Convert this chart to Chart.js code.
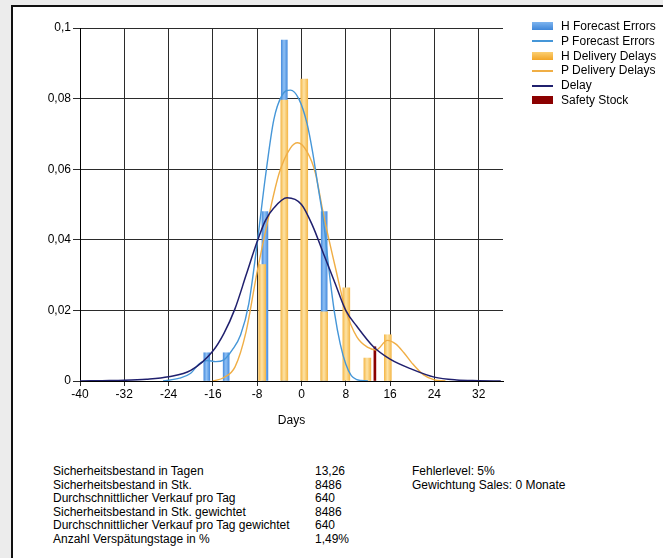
<!DOCTYPE html>
<html>
<head>
<meta charset="utf-8">
<script src="https://cdn.jsdelivr.net/npm/chart.js@4.4.1/dist/chart.umd.min.js"></script>
<style>
body { margin:0; width:663px; height:558px; background:#ececec; font-family:"Liberation Sans", Arial, sans-serif; font-size:12px; color:#000; overflow:hidden; }
#moldura { position:absolute; left:11px; top:5px; right:0; bottom:0; background:#fff; border-left:2px solid #111; border-top:2px solid #111; }
#area { position:absolute; left:13px; top:8px; width:650px; height:440px; }
#legenda { position:absolute; left:532px; top:19px; }
#legenda div { position:relative; height:14.8px; line-height:14.8px; padding-left:29px; white-space:nowrap; }
#legenda span { position:absolute; left:0; width:21px; }
.texto { position:absolute; top:465px; line-height:13.6px; white-space:pre; }
</style>
</head>
<body>
<div id="moldura"></div>
<div id="area"><canvas id="grafico"></canvas></div>
<div id="legenda"></div>
<div class="texto" style="left:53px">Sicherheitsbestand in Tagen
Sicherheitsbestand in Stk.
Durchschnittlicher Verkauf pro Tag
Sicherheitsbestand in Stk. gewichtet
Durchschnittlicher Verkauf pro Tag gewichtet
Anzahl Verspätungstage in %</div>
<div class="texto" style="left:315px">13,26
8486
640
8486
640
1,49%</div>
<div class="texto" style="left:412px">Fehlerlevel: 5%
Gewichtung Sales: 0 Monate</div>

<script>
// histogramas (dias / frequencia)
var diasHForecast = [-17.1, -13.6, -6.6, -3.1, 4.1];
var valoresHForecast = [0.008, 0.008, 0.048, 0.0966, 0.048];

var diasHDelivery = [-7.1, -3.1, 0.5, 4.1, 8.1, 11.9, 15.6];
var valoresHDelivery = [0.033, 0.0796, 0.0855, 0.0196, 0.0264, 0.0065, 0.0131];

// curvas
var diasPForecast = [-25, -22, -20, -18.5, -17, -15.5, -14, -12.5, -11, -9.5, -8, -6.5, -5, -3.5, -2, -0.5, 1, 2, 3, 4, 5, 6, 7, 8, 9, 10, 12];
var valoresPForecast = [0, 0.0008, 0.0022, 0.0048, 0.0058, 0.0055, 0.006, 0.0088, 0.013, 0.022, 0.039, 0.058, 0.074, 0.081, 0.0824, 0.080, 0.073, 0.065, 0.055, 0.045, 0.031, 0.019, 0.0105, 0.0048, 0.0015, 0.0004, 0];

var diasPDelivery = [-16, -14, -12, -10, -8, -6, -4, -2, -0.7, 1, 2.5, 4, 6, 8, 10, 12, 13.5, 15.5, 17, 18.5, 20, 22, 24, 26];
var valoresPDelivery = [0, 0.001, 0.004, 0.014, 0.031, 0.046, 0.059, 0.066, 0.0675, 0.065, 0.059, 0.047, 0.033, 0.02, 0.0125, 0.0095, 0.0088, 0.0115, 0.0105, 0.008, 0.005, 0.0018, 0.0003, 0];

var diasDelay = [-40, -36, -32, -28, -24, -20, -16, -14, -12, -10, -8, -6.5, -5, -2.6, 0, 2, 4, 6, 8, 10, 13, 16, 20, 24, 28, 32, 36];
var valoresDelay = [0, 0.0001, 0.0002, 0.0005, 0.0012, 0.003, 0.0085, 0.0135, 0.0205, 0.030, 0.0395, 0.0455, 0.049, 0.0519, 0.050, 0.044, 0.036, 0.028, 0.020, 0.0155, 0.0097, 0.0062, 0.0033, 0.0011, 0.0003, 0.0001, 0];

var diasSafety = [13.26];
var valoresSafety = [0.0097];

function pontos(dias, valores) {
    var r = [];
    for (var i = 0; i < dias.length; i++) {
        r.push({ x: dias[i], y: valores[i] });
    }
    return r;
}

// degrade horizontal em cada barra
function degrade(claro, escuro, dias, largura) {
    return function (ctx) {
        var escala = ctx.chart.scales.x;
        if (!escala || ctx.dataIndex === undefined) return escuro;
        var px = escala.getPixelForValue(dias[ctx.dataIndex]);
        if (!isFinite(px)) return escuro;
        var g = ctx.chart.ctx.createLinearGradient(px - largura / 2, 0, px + largura / 2, 0);
        g.addColorStop(0, escuro);
        g.addColorStop(0.45, claro);
        g.addColorStop(1, escuro);
        return g;
    };
}

Chart.defaults.font.family = '"Liberation Sans", Arial, sans-serif';
Chart.defaults.font.size = 12;
Chart.defaults.color = '#000';

var series = [
    { label: 'H Forecast Errors', type: 'bar', data: pontos(diasHForecast, valoresHForecast),
      backgroundColor: degrade('#8fc0f4', '#4b8fdf', diasHForecast, 6), barThickness: 6, grouped: false, order: 5,
      legenda: 'linear-gradient(#7db4ef, #3f86d8)', caixa: true },
    { label: 'P Forecast Errors', type: 'line', data: pontos(diasPForecast, valoresPForecast),
      borderColor: '#4596d8', borderWidth: 1.4, pointRadius: 0, cubicInterpolationMode: 'monotone', order: 1,
      legenda: '#4596d8' },
    { label: 'H Delivery Delays', type: 'bar', data: pontos(diasHDelivery, valoresHDelivery),
      backgroundColor: degrade('#fde3a6', '#f5b94c', diasHDelivery, 7), barThickness: 7, grouped: false, order: 4,
      legenda: 'linear-gradient(#fbcf72, #f2a526)', caixa: true },
    { label: 'P Delivery Delays', type: 'line', data: pontos(diasPDelivery, valoresPDelivery),
      borderColor: '#f0ae45', borderWidth: 1.4, pointRadius: 0, cubicInterpolationMode: 'monotone', order: 2,
      legenda: '#f0ae45' },
    { label: 'Delay', type: 'line', data: pontos(diasDelay, valoresDelay),
      borderColor: '#20206e', borderWidth: 1.5, pointRadius: 0, cubicInterpolationMode: 'monotone', order: 0,
      legenda: '#20206e' },
    { label: 'Safety Stock', type: 'bar', data: pontos(diasSafety, valoresSafety),
      backgroundColor: '#8b0000', barThickness: 2, grouped: false, order: 3,
      legenda: '#8b0000', caixa: true }
];

var grafico = new Chart(document.getElementById('grafico'), {
    type: 'line',
    data: { datasets: series },
    options: {
        responsive: true,
        maintainAspectRatio: false,
        animation: false,
        layout: { padding: { top: 20, right: 160, left: 0, bottom: 0 } },
        plugins: { legend: { display: false }, tooltip: { enabled: false } },
        scales: {
            x: {
                type: 'linear',
                min: -40,
                max: 36.4,
                offset: false,
                afterFit: function (escala) { escala.height = 67; },
                grid: { color: '#2b2b2b', tickLength: 5, offset: false },
                border: { color: '#000' },
                ticks: { stepSize: 8, includeBounds: false, maxRotation: 0, autoSkip: false, padding: 1 },
                title: { display: true, text: 'Days', padding: { top: 0, bottom: 20 } }
            },
            y: {
                min: 0,
                max: 0.1,
                afterFit: function (escala) { escala.width = 67; },
                grid: { color: '#2b2b2b', tickLength: 7 },
                border: { color: '#000' },
                ticks: {
                    stepSize: 0.02,
                    padding: 2,
                    callback: function (v) {
                        if (v === 0) return '0';
                        return v.toFixed(2).replace(/0$/, '').replace('.', ',');
                    }
                }
            }
        }
    }
});

// legenda em html
var legenda = document.getElementById('legenda');
series.forEach(function (s) {
    var linha = document.createElement('div');
    var marca = document.createElement('span');
    marca.style.background = s.legenda;
    if (s.caixa) { marca.style.top = '3.4px'; marca.style.height = '8px'; }
    else { marca.style.top = '6.4px'; marca.style.height = '2px'; }
    linha.appendChild(marca);
    linha.appendChild(document.createTextNode(s.label));
    legenda.appendChild(linha);
});
</script>
</body>
</html>
